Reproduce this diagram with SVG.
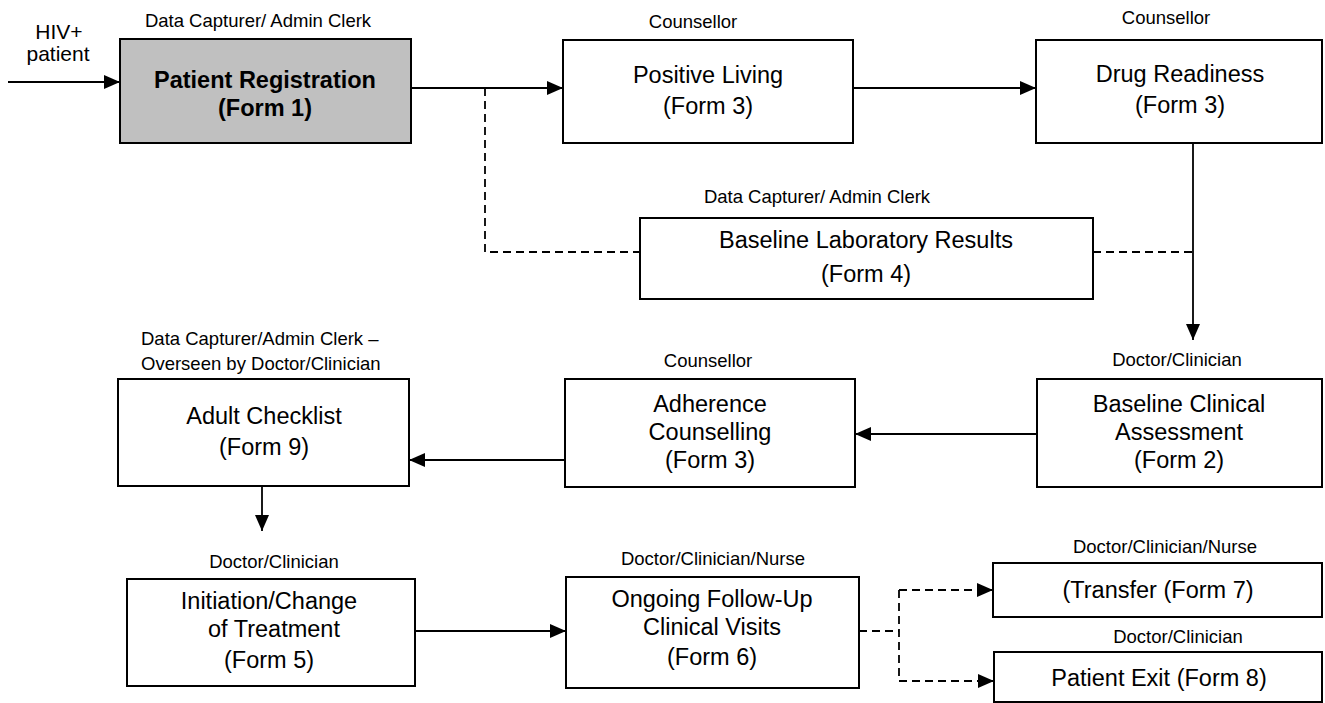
<svg xmlns="http://www.w3.org/2000/svg" width="1325" height="703" viewBox="0 0 1325 703">
<style>
  .box{fill:#ffffff;stroke:#000;stroke-width:2}
  .grey{fill:#c0c0c0}
  .t{font-family:"Liberation Sans",Arial,sans-serif;font-size:23.5px;fill:#000;text-anchor:middle}
  .b{font-weight:bold}
  .s{font-family:"Liberation Sans",Arial,sans-serif;font-size:18.5px;fill:#000;text-anchor:middle}
  .ln{fill:none;stroke:#000;stroke-width:1.8}
  .d{stroke-dasharray:8,5}
</style>
<defs>
  <marker id="ah" markerUnits="userSpaceOnUse" markerWidth="16" markerHeight="14" refX="16" refY="7" orient="auto">
    <path d="M0,0 L16,7 L0,14 z" fill="#000"/>
  </marker>
</defs>
<rect width="1325" height="703" fill="#fff"/>

<g id="connectors">
  <line class="ln" x1="8" y1="82" x2="120" y2="82" marker-end="url(#ah)"/>
  <line class="ln" x1="411" y1="88" x2="563" y2="88" marker-end="url(#ah)"/>
  <line class="ln" x1="853" y1="88" x2="1036" y2="88" marker-end="url(#ah)"/>
  <line class="ln" x1="1193" y1="143" x2="1193" y2="340" marker-end="url(#ah)"/>
  <polyline class="ln d" points="485,88 485,252 640,252"/>
  <line class="ln d" x1="1093" y1="252" x2="1193" y2="252"/>
  <line class="ln" x1="1037" y1="434" x2="855" y2="434" marker-end="url(#ah)"/>
  <line class="ln" x1="565" y1="460" x2="409" y2="460" marker-end="url(#ah)"/>
  <line class="ln" x1="262" y1="486" x2="262" y2="531" marker-end="url(#ah)"/>
  <line class="ln" x1="415" y1="631" x2="566" y2="631" marker-end="url(#ah)"/>
  <line class="ln d" x1="859" y1="631" x2="899" y2="631"/>
  <polyline class="ln d" points="899,590 899,681"/>
  <line class="ln d" x1="899" y1="590" x2="993" y2="590" marker-end="url(#ah)"/>
  <line class="ln d" x1="899" y1="681" x2="994" y2="681" marker-end="url(#ah)"/>
</g>

<g id="hiv-patient">
  <text class="t" x="59" y="39" style="font-size:21px">HIV+</text>
  <text class="t" x="58" y="61" style="font-size:21px">patient</text>
</g>

<g id="patient-registration">
  <text class="s" x="258" y="27">Data Capturer/ Admin Clerk</text>
  <rect class="box grey" x="120" y="39" width="291" height="104"/>
  <text class="t b" x="265" y="88">Patient Registration</text>
  <text class="t b" x="265" y="116">(Form 1)</text>
</g>

<g id="positive-living">
  <text class="s" x="693" y="28">Counsellor</text>
  <rect class="box" x="563" y="40" width="290" height="103"/>
  <text class="t" x="708" y="83">Positive Living</text>
  <text class="t" x="708" y="114">(Form 3)</text>
</g>

<g id="drug-readiness">
  <text class="s" x="1166" y="24">Counsellor</text>
  <rect class="box" x="1036" y="40" width="286" height="103"/>
  <text class="t" x="1180" y="82">Drug Readiness</text>
  <text class="t" x="1180" y="113">(Form 3)</text>
</g>

<g id="baseline-lab">
  <text class="s" x="817" y="203">Data Capturer/ Admin Clerk</text>
  <rect class="box" x="640" y="218" width="453" height="81"/>
  <text class="t" x="866" y="248">Baseline Laboratory Results</text>
  <text class="t" x="866" y="282">(Form 4)</text>
</g>

<g id="baseline-clinical">
  <text class="s" x="1177" y="366">Doctor/Clinician</text>
  <rect class="box" x="1037" y="379" width="285" height="108"/>
  <text class="t" x="1179" y="412">Baseline Clinical</text>
  <text class="t" x="1179" y="440">Assessment</text>
  <text class="t" x="1179" y="468">(Form 2)</text>
</g>

<g id="adherence">
  <text class="s" x="708" y="367">Counsellor</text>
  <rect class="box" x="565" y="379" width="290" height="108"/>
  <text class="t" x="710" y="412">Adherence</text>
  <text class="t" x="710" y="440">Counselling</text>
  <text class="t" x="710" y="468">(Form 3)</text>
</g>

<g id="adult-checklist">
  <text class="s" x="141" y="345" style="text-anchor:start">Data Capturer/Admin Clerk –</text>
  <text class="s" x="141" y="370" style="text-anchor:start">Overseen by Doctor/Clinician</text>
  <rect class="box" x="118" y="379" width="291" height="107"/>
  <text class="t" x="264" y="424">Adult Checklist</text>
  <text class="t" x="264" y="455">(Form 9)</text>
</g>

<g id="initiation">
  <text class="s" x="274" y="568">Doctor/Clinician</text>
  <rect class="box" x="127" y="579" width="288" height="107"/>
  <text class="t" x="269" y="609">Initiation/Change</text>
  <text class="t" x="274" y="637">of Treatment</text>
  <text class="t" x="269" y="668">(Form 5)</text>
</g>

<g id="ongoing">
  <text class="s" x="713" y="565">Doctor/Clinician/Nurse</text>
  <rect class="box" x="566" y="577" width="293" height="111"/>
  <text class="t" x="712" y="607">Ongoing Follow-Up</text>
  <text class="t" x="712" y="635">Clinical Visits</text>
  <text class="t" x="712" y="665">(Form 6)</text>
</g>

<g id="transfer">
  <text class="s" x="1165" y="553">Doctor/Clinician/Nurse</text>
  <rect class="box" x="993" y="563" width="329" height="54"/>
  <text class="t" x="1158" y="598">(Transfer (Form 7)</text>
</g>

<g id="patient-exit">
  <text class="s" x="1178" y="643">Doctor/Clinician</text>
  <rect class="box" x="994" y="652" width="328" height="50"/>
  <text class="t" x="1159" y="686">Patient Exit (Form 8)</text>
</g>
</svg>
